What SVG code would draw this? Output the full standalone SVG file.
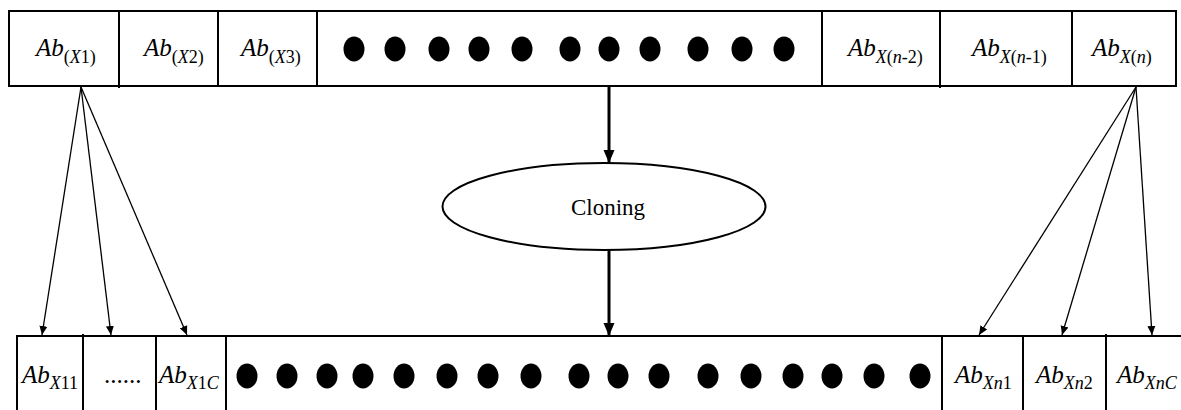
<svg xmlns="http://www.w3.org/2000/svg" width="1181" height="410" viewBox="0 0 1181 410">
<style>
.box{fill:#fff;stroke:#000;stroke-width:2}
.div{stroke:#000;stroke-width:2}
.t{font-family:"Liberation Serif","DejaVu Serif",serif;font-size:25px;fill:#000}
.i{font-style:italic}
.s{font-size:18px}
.dot{fill:#000}
.thin{stroke:#000;stroke-width:1.3;fill:none}
.thick{stroke:#000;stroke-width:3;fill:none}
</style>
<defs>
<marker id="ah" markerWidth="10" markerHeight="10" refX="9" refY="5" orient="auto" markerUnits="userSpaceOnUse"><path d="M0,1 L9,5 L0,9 Z" fill="#000"/></marker>
<marker id="ahb" markerWidth="14" markerHeight="12" refX="13" refY="6" orient="auto" markerUnits="userSpaceOnUse"><path d="M0,0.5 L13,6 L0,11.5 Z" fill="#000"/></marker>
</defs>

<g id="top-row">
<rect class="box" x="9" y="11" width="1167" height="75"/>
<line class="div" x1="119" y1="10" x2="119" y2="88"/>
<line class="div" x1="218" y1="10" x2="218" y2="86"/>
<line class="div" x1="317" y1="11" x2="317" y2="86"/>
<line class="div" x1="822" y1="11" x2="822" y2="86"/>
<line class="div" x1="940" y1="11" x2="940" y2="88"/>
<line class="div" x1="1072" y1="11" x2="1072" y2="86"/>
<text class="t" x="36" y="56"><tspan class="i">Ab</tspan><tspan class="s" dy="7">(<tspan class="i">X</tspan>1)</tspan></text>
<text class="t" x="144" y="56"><tspan class="i">Ab</tspan><tspan class="s" dy="7">(<tspan class="i">X</tspan>2)</tspan></text>
<text class="t" x="241" y="56"><tspan class="i">Ab</tspan><tspan class="s" dy="7">(<tspan class="i">X</tspan>3)</tspan></text>
<g class="dot">
<ellipse cx="354" cy="49" rx="10.5" ry="12.5"/>
<ellipse cx="395" cy="49" rx="10.5" ry="12.5"/>
<ellipse cx="439" cy="49" rx="10.5" ry="12.5"/>
<ellipse cx="479" cy="49" rx="10.5" ry="12.5"/>
<ellipse cx="522" cy="49" rx="10.5" ry="12.5"/>
<ellipse cx="570" cy="49" rx="10.5" ry="12.5"/>
<ellipse cx="609" cy="49" rx="10.5" ry="12.5"/>
<ellipse cx="650" cy="49" rx="10.5" ry="12.5"/>
<ellipse cx="698" cy="49" rx="10.5" ry="12.5"/>
<ellipse cx="742" cy="49" rx="10.5" ry="12.5"/>
<ellipse cx="784" cy="49" rx="10.5" ry="12.5"/>
</g>
<text class="t" x="848" y="56"><tspan class="i">Ab</tspan><tspan class="s" dy="7"><tspan class="i">X</tspan>(<tspan class="i">n</tspan>-2)</tspan></text>
<text class="t" x="972" y="56"><tspan class="i">Ab</tspan><tspan class="s" dy="7"><tspan class="i">X</tspan>(<tspan class="i">n</tspan>-1)</tspan></text>
<text class="t" x="1092" y="56"><tspan class="i">Ab</tspan><tspan class="s" dy="7"><tspan class="i">X</tspan>(<tspan class="i">n</tspan>)</tspan></text>
</g>

<g id="cloning">
<ellipse cx="604" cy="206.5" rx="161.5" ry="43.5" fill="#fff" stroke="#000" stroke-width="2"/>
<text x="608" y="215" text-anchor="middle" font-family="Liberation Serif, DejaVu Serif, serif" font-size="23">Cloning</text>
</g>

<g id="bottom-row">
<rect class="box" x="17" y="336" width="1170" height="90"/>
<line class="div" x1="83" y1="334" x2="83" y2="410"/>
<line class="div" x1="156" y1="336" x2="156" y2="410"/>
<line class="div" x1="226" y1="336" x2="226" y2="410"/>
<line class="div" x1="942" y1="336" x2="942" y2="410"/>
<line class="div" x1="1023" y1="336" x2="1023" y2="410"/>
<line class="div" x1="1106" y1="334" x2="1106" y2="410"/>
<text class="t" x="22" y="383"><tspan class="i">Ab</tspan><tspan class="s i" dy="6">X</tspan><tspan class="s">11</tspan></text>
<text class="t" x="104" y="383" font-size="20">......</text>
<text class="t" x="159" y="383"><tspan class="i">Ab</tspan><tspan class="s i" dy="6">X</tspan><tspan class="s">1</tspan><tspan class="s i">C</tspan></text>
<g class="dot">
<ellipse cx="247" cy="376" rx="10.5" ry="12.5"/>
<ellipse cx="287" cy="376" rx="10.5" ry="12.5"/>
<ellipse cx="327" cy="376" rx="10.5" ry="12.5"/>
<ellipse cx="363" cy="376" rx="10.5" ry="12.5"/>
<ellipse cx="404" cy="376" rx="10.5" ry="12.5"/>
<ellipse cx="447" cy="376" rx="10.5" ry="12.5"/>
<ellipse cx="488" cy="376" rx="10.5" ry="12.5"/>
<ellipse cx="531" cy="376" rx="10.5" ry="12.5"/>
<ellipse cx="579" cy="376" rx="10.5" ry="12.5"/>
<ellipse cx="618" cy="376" rx="10.5" ry="12.5"/>
<ellipse cx="659" cy="376" rx="10.5" ry="12.5"/>
<ellipse cx="708" cy="376" rx="10.5" ry="12.5"/>
<ellipse cx="751" cy="376" rx="10.5" ry="12.5"/>
<ellipse cx="793" cy="376" rx="10.5" ry="12.5"/>
<ellipse cx="832" cy="376" rx="10.5" ry="12.5"/>
<ellipse cx="874" cy="376" rx="10.5" ry="12.5"/>
<ellipse cx="920" cy="376" rx="10.5" ry="12.5"/>
</g>
<text class="t" x="955" y="383"><tspan class="i">Ab</tspan><tspan class="s i" dy="6">Xn</tspan><tspan class="s">1</tspan></text>
<text class="t" x="1036" y="383"><tspan class="i">Ab</tspan><tspan class="s i" dy="6">Xn</tspan><tspan class="s">2</tspan></text>
<text class="t" x="1117" y="383"><tspan class="i">Ab</tspan><tspan class="s i" dy="6">XnC</tspan></text>
</g>

<g id="connectors">
<line class="thick" x1="609" y1="86" x2="609" y2="163" marker-end="url(#ahb)"/>
<line class="thick" x1="609" y1="250" x2="609" y2="336" marker-end="url(#ahb)"/>
<line class="thin" x1="81" y1="87" x2="42" y2="335" marker-end="url(#ah)"/>
<line class="thin" x1="81" y1="87" x2="111" y2="335" marker-end="url(#ah)"/>
<line class="thin" x1="81" y1="87" x2="187" y2="335" marker-end="url(#ah)"/>
<line class="thin" x1="1136" y1="87" x2="979" y2="335" marker-end="url(#ah)"/>
<line class="thin" x1="1136" y1="87" x2="1062" y2="335" marker-end="url(#ah)"/>
<line class="thin" x1="1136" y1="87" x2="1152" y2="335" marker-end="url(#ah)"/>
</g>
</svg>
